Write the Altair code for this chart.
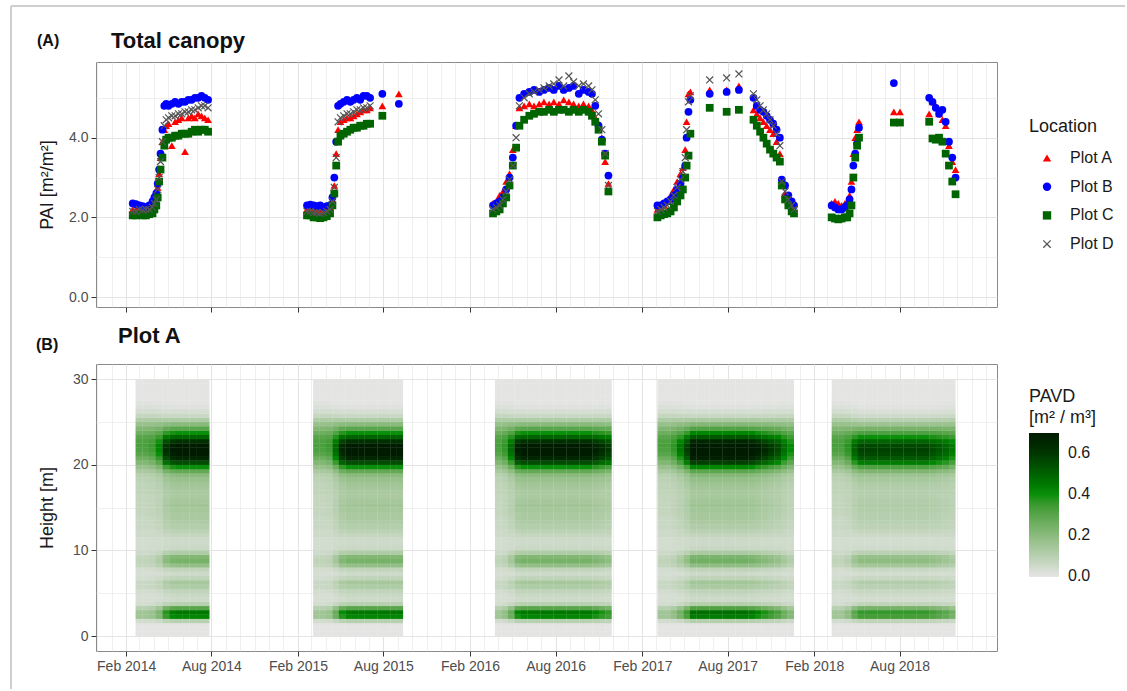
import altair as alt
import pandas as pd

# ---------------- Panel A: plant area index per plot ----------------
locations = ["Plot A", "Plot B", "Plot C", "Plot D"]
location_colors = ["#ff0000", "#0000ff", "#006400", "#555555"]
x_shape = "M0,-0.22L0.78,-1L1,-0.78L0.22,0L1,0.78L0.78,1L0,0.22L-0.78,1L-1,0.78L-0.22,0L-1,-0.78L-0.78,-1Z"
location_shapes = ["triangle-up", "circle", "square", x_shape]

dates_2014 = ["2014-02-15", "2014-02-22", "2014-03-01", "2014-03-08", "2014-03-15", "2014-03-22", "2014-03-29",
              "2014-04-02", "2014-04-06", "2014-04-09", "2014-04-12", "2014-04-15", "2014-04-19", "2014-04-23",
              "2014-04-27", "2014-05-02", "2014-05-09", "2014-05-16", "2014-05-23", "2014-05-30", "2014-06-06",
              "2014-06-13", "2014-06-20", "2014-06-27", "2014-07-04", "2014-07-11", "2014-07-18", "2014-07-25"]
plot_a_2014 = [2.2, 2.2, 2.18, 2.15, 2.2, 2.22, 2.3, 2.4, 2.5, 2.75, 3.1, 3.5, 3.9, 4.2, 4.3, 4.35, 3.8, 4.4,
               4.45, 4.5, 3.65, 4.5, 4.55, 4.5, 4.6, 4.55, 4.5, 4.45]
plot_b_2014 = [2.35, 2.33, 2.3, 2.28, 2.25, 2.3, 2.4, 2.5, 2.6, 2.85, 3.2, 3.6, 4.2, 4.8, 4.85, 4.8, 4.85, 4.9,
               4.85, 4.9, 4.9, 4.95, 4.95, 5.0, 5.0, 5.05, 5.0, 4.95]
plot_c_2014 = [2.05, 2.05, 2.08, 2.05, 2.05, 2.08, 2.1, 2.2, 2.3, 2.5, 2.9, 3.2, 3.5, 3.8, 3.95, 4.0, 4.0, 4.05,
               4.05, 4.1, 4.1, 4.1, 4.15, 4.2, 4.15, 4.2, 4.2, 4.15]
plot_d_2014 = [2.15, 2.15, 2.2, 2.18, 2.2, 2.2, 2.25, 2.35, 2.45, 2.7, 3.0, 3.4, 3.9, 4.3, 4.45, 4.5, 4.55, 4.55,
               4.6, 4.6, 4.65, 4.65, 4.7, 4.7, 4.75, 4.8, 4.8, 4.75]

dates_2015 = ["2015-02-20", "2015-02-27", "2015-03-06", "2015-03-13", "2015-03-20", "2015-03-27", "2015-04-03",
              "2015-04-10", "2015-04-15", "2015-04-19", "2015-04-23", "2015-04-27", "2015-05-02", "2015-05-09",
              "2015-05-16", "2015-05-23", "2015-05-30", "2015-06-06", "2015-06-13", "2015-06-20", "2015-06-27",
              "2015-07-04", "2015-07-30", "2015-09-03"]
plot_a_2015 = [2.2, 2.2, 2.15, 2.18, 2.15, 2.2, 2.2, 2.25, 2.45, 2.8, 3.6, 4.2, 4.4, 4.45, 4.5, 4.5, 4.55, 4.6,
               4.65, 4.7, 4.7, 4.75, 4.8, 5.1]
plot_b_2015 = [2.3, 2.32, 2.3, 2.28, 2.3, 2.25, 2.28, 2.3, 2.5, 3.0, 3.9, 4.8, 4.85, 4.9, 4.95, 4.9, 4.95, 5.0,
               4.95, 5.05, 5.05, 5.0, 5.1, 4.85]
plot_c_2015 = [2.05, 2.05, 2.0, 2.0, 1.98, 2.0, 2.03, 2.1, 2.3, 2.6, 3.3, 3.9, 4.05, 4.1, 4.15, 4.2, 4.25, 4.25,
               4.3, 4.3, 4.35, 4.35, 4.55, None]
plot_d_2015 = [2.15, 2.15, 2.12, 2.12, 2.1, 2.12, 2.15, 2.2, 2.4, 2.75, 3.5, 4.4, 4.5, 4.55, 4.6, 4.6, 4.65, 4.7,
               4.7, 4.75, 4.75, 4.8, None, None]

dates_2016 = ["2016-03-21", "2016-03-28", "2016-04-04", "2016-04-11", "2016-04-18", "2016-04-25", "2016-05-02",
              "2016-05-09", "2016-05-16", "2016-05-26", "2016-06-06", "2016-06-16", "2016-06-27", "2016-07-07",
              "2016-07-18", "2016-07-28", "2016-08-08", "2016-08-18", "2016-08-29", "2016-09-08", "2016-09-19",
              "2016-09-29", "2016-10-10", "2016-10-17", "2016-10-24", "2016-10-31", "2016-11-07", "2016-11-14",
              "2016-11-21"]
plot_a_2016 = [2.35, 2.4, 2.55, 2.65, 2.9, 3.1, 3.7, 4.3, 4.75, 4.8, 4.85, 4.8, 4.85, 4.9, 4.85, 4.9, 4.85, 4.95,
               4.9, 4.85, 4.8, 4.85, 4.8, 4.7, 4.5, 4.35, 4.0, 3.4, 2.85]
plot_b_2016 = [2.3, 2.35, 2.4, 2.5, 2.7, 3.0, 3.5, 4.3, 5.0, 5.1, 5.15, 5.2, 5.15, 5.2, 5.25, 5.2, 5.3, 5.2,
               5.25, 5.3, 5.1, 5.2, 5.15, 5.1, 4.8, 4.3, 3.95, 3.6, 3.05]
plot_c_2016 = [2.1, 2.15, 2.2, 2.35, 2.5, 2.8, 3.3, 3.75, 4.3, 4.45, 4.55, 4.6, 4.65, 4.65, 4.7, 4.65, 4.7, 4.7,
               4.65, 4.7, 4.65, 4.7, 4.65, 4.55, 4.4, 4.2, 3.9, 3.55, 2.65]
plot_d_2016 = [2.2, 2.25, 2.3, 2.45, 2.65, 2.95, 3.3, 4.0, 4.8, 5.0, 5.1, 5.15, 5.2, 5.25, 5.3, 5.35, 5.45, 5.3,
               5.55, 5.4, 5.3, 5.35, 5.3, 5.2, 4.95, 4.6, 4.2, 3.6, 2.8]

dates_2017 = ["2017-03-05", "2017-03-12", "2017-03-19", "2017-03-26", "2017-04-02", "2017-04-09", "2017-04-16",
              "2017-04-23", "2017-04-28", "2017-05-03", "2017-05-06", "2017-05-10", "2017-05-14", "2017-06-24",
              "2017-07-30", "2017-08-25", "2017-09-25", "2017-10-02", "2017-10-09", "2017-10-16", "2017-10-23",
              "2017-10-30", "2017-11-06", "2017-11-13", "2017-11-20", "2017-11-24", "2017-12-01", "2017-12-08",
              "2017-12-15", "2017-12-20"]
plot_a_2017 = [2.2, 2.25, 2.3, 2.4, 2.55, 2.7, 2.9, 3.1, 3.25, 3.7, 4.4, 5.1, 5.15, 5.2, 5.2, 5.3, 4.7, 4.6,
               4.5, 4.4, 4.3, 4.2, 4.1, 3.9, 3.6, 2.9, 2.6, 2.4, 2.25, 2.2]
plot_b_2017 = [2.3, 2.3, 2.35, 2.4, 2.45, 2.55, 2.7, 2.85, 3.0, 3.3, 4.0, 4.65, 4.95, 5.1, 5.15, 5.2, 5.0, 4.8,
               4.7, 4.65, 4.55, 4.45, 4.35, 4.2, 4.0, 2.95, 2.8, 2.55, 2.4, 2.3]
plot_c_2017 = [2.0, 2.05, 2.08, 2.1, 2.15, 2.25, 2.4, 2.55, 2.7, 3.0, 3.3, 3.55, 4.1, 4.75, 4.65, 4.7, 4.45, 4.3,
               4.15, 4.0, 3.85, 3.7, 3.6, 3.5, 3.4, 2.8, 2.45, 2.3, 2.15, 2.1]
plot_d_2017 = [2.15, 2.2, 2.25, 2.3, 2.4, 2.55, 2.75, 2.95, 3.15, 3.5, 4.2, 4.9, 5.05, 5.45, 5.5, 5.6, 5.1, 4.95,
               4.8, 4.7, 4.6, 4.45, 4.3, 4.1, 3.8, 2.9, 2.65, 2.45, 2.3, 2.2]

dates_2018 = ["2018-03-10", "2018-03-17", "2018-03-24", "2018-03-31", "2018-04-07", "2018-04-12", "2018-04-17",
              "2018-04-21", "2018-04-25", "2018-04-29", "2018-05-03", "2018-05-07", "2018-07-20", "2018-08-02",
              "2018-10-03", "2018-10-10", "2018-10-17", "2018-10-24", "2018-10-31", "2018-11-07", "2018-11-14",
              "2018-11-21", "2018-11-28"]
plot_a_2018 = [2.35, 2.4, 2.35, 2.3, 2.35, 2.4, 2.55, 2.9, 3.6, 4.0, 4.2, 4.4, 4.65, 4.65, 4.6, 4.9, 4.8, 4.6,
               4.45, 4.3, 3.8, 3.4, 3.2]
plot_b_2018 = [2.3, 2.25, 2.2, 2.2, 2.25, 2.3, 2.45, 2.7, 3.3, 3.6, 3.85, 4.25, 5.37, None, 5.0, 4.9, 4.75, 4.6,
               4.7, 4.4, 3.9, 3.5, 3.0]
plot_c_2018 = [2.0, 1.97, 1.95, 1.97, 2.0, 2.0, 2.1, 2.3, 3.0, 3.5, 3.8, 4.0, 4.38, 4.38, 4.4, 3.98, 3.95, 4.0,
               3.9, 3.6, 3.3, 2.9, 2.58]
plot_d_2018 = [None] * len(dates_2018)

seasons = [
    (dates_2014, plot_a_2014, plot_b_2014, plot_c_2014, plot_d_2014),
    (dates_2015, plot_a_2015, plot_b_2015, plot_c_2015, plot_d_2015),
    (dates_2016, plot_a_2016, plot_b_2016, plot_c_2016, plot_d_2016),
    (dates_2017, plot_a_2017, plot_b_2017, plot_c_2017, plot_d_2017),
    (dates_2018, plot_a_2018, plot_b_2018, plot_c_2018, plot_d_2018),
]
pai_rows = []
for k, loc in enumerate(locations):
    for season in seasons:
        dates, series = season[0], season[1 + k]
        for dt_str, val in zip(dates, series):
            if val is not None:
                pai_rows.append({"date": dt_str, "PAI": val, "Location": loc})
pai_df = pd.DataFrame(pai_rows)

# ---------------- Panel B: PAVD profiles for Plot A ----------------
pavd_layer_depth = 0.5
pavd_heights = [i * pavd_layer_depth for i in range(60)]  # lower edge of 0.5 m layers, 0 .. 29.5 m
pavd_leaf_off = [0.0, 0.0, 0.0, 0.04, 0.15, 0.15, 0.10, 0.04, 0.03, 0.03,
                 0.04, 0.06, 0.06, 0.04, 0.03, 0.04, 0.07, 0.08, 0.07, 0.05,
                 0.04, 0.04, 0.04, 0.05, 0.05, 0.06, 0.06, 0.06, 0.07, 0.07,
                 0.07, 0.07, 0.07, 0.08, 0.08, 0.08, 0.09, 0.10, 0.13, 0.17,
                 0.22, 0.26, 0.30, 0.32, 0.33, 0.32, 0.30, 0.26, 0.22, 0.17,
                 0.12, 0.07, 0.04, 0.02, 0.01, 0.0, 0.0, 0.0, 0.0, 0.0]
pavd_leaf_on = [0.0, 0.0, 0.0, 0.10, 0.42, 0.45, 0.30, 0.10, 0.05, 0.06,
                0.08, 0.12, 0.14, 0.08, 0.05, 0.08, 0.18, 0.24, 0.22, 0.12,
                0.06, 0.05, 0.05, 0.07, 0.09, 0.11, 0.12, 0.13, 0.13, 0.14,
                0.15, 0.14, 0.13, 0.13, 0.14, 0.15, 0.17, 0.20, 0.28, 0.40,
                0.55, 0.65, 0.70, 0.72, 0.70, 0.62, 0.50, 0.40, 0.30, 0.20,
                0.12, 0.06, 0.03, 0.01, 0.0, 0.0, 0.0, 0.0, 0.0, 0.0]
pavd_season_start = ["2014-02-21", "2015-03-05", "2016-03-25", "2017-03-05", "2018-03-10"]
pavd_season_end = ["2014-07-28", "2015-09-12", "2016-11-28", "2017-12-20", "2018-11-28"]
pavd_leaf_2014 = [0, 0, 0.05, 0.25, 0.75, 0.95, 1, 1, 1, 1, 1]
pavd_leaf_2015 = [0, 0, 0.05, 0.4, 0.85, 1, 1, 1, 1, 1, 1, 1, 1, 1]
pavd_leaf_2016 = [0, 0.1, 0.4, 0.9, 1, 1, 1, 1, 1, 1, 1, 1, 1, 1, 1, 0.9, 0.8, 0.7]
pavd_leaf_2017 = [0, 0, 0.1, 0.3, 0.6, 1, 1, 1, 1, 1, 1, 1, 1, 1, 0.95, 0.85, 0.75, 0.65, 0.55, 0.35, 0.2]
pavd_leaf_2018 = [0, 0, 0.2, 0.7, 1, 1, 1, 1, 1, 1, 1, 1, 1, 1, 1, 0.9, 0.8, 0.7, 0.5]
pavd_peak = [1.0, 1.0, 1.0, 1.05, 0.8]
pavd_leaf = [pavd_leaf_2014, pavd_leaf_2015, pavd_leaf_2016, pavd_leaf_2017, pavd_leaf_2018]

cells = []
for s, e, leaf, peak in zip(pavd_season_start, pavd_season_end, pavd_leaf, pavd_peak):
    edges = pd.date_range(s, e, periods=len(leaf) + 1)
    for i, f in enumerate(leaf):
        x0 = edges[i]
        x1 = edges[i + 1] + (pd.Timedelta(hours=14) if i < len(leaf) - 1 else pd.Timedelta(0))
        for j, (h, off, on) in enumerate(zip(pavd_heights, pavd_leaf_off, pavd_leaf_on)):
            v = off + f * (on * peak - off)
            cells.append({
                "start": x0.strftime("%Y-%m-%dT%H:%M:%S"),
                "end": x1.strftime("%Y-%m-%dT%H:%M:%S"),
                "h0": h,
                "h1": h + pavd_layer_depth + (0.04 if j < len(pavd_heights) - 1 else 0.0),
                "pavd": round(v, 3),
            })
pavd_df = pd.DataFrame(cells)

# ---------------- shared axis pieces ----------------
months = []
y, m = 2013, 12
while (y, m) <= (2019, 2):
    months.append(alt.DateTime(year=y, month=m, date=1))
    m += 1
    if m > 12:
        y, m = y + 1, 1

x_domain = [alt.DateTime(year=2013, month=11, date=29), alt.DateTime(year=2019, month=2, date=24)]
major_x = "(month(datum.value) == 1 || month(datum.value) == 7) && year(datum.value) < 2019"
GRID = "#e4e4e4"
TICK = "#333333"
LABEL = "#4d4d4d"


def cond(test, a, b):
    return {"condition": {"test": test, "value": a}, "value": b}


x_axis_top = alt.Axis(values=months, labels=False, title=None, domain=False, tickSize=5, tickColor=TICK,
                      tickOpacity=cond(major_x, 1, 0), grid=True, gridColor=GRID,
                      gridWidth=cond(major_x, 1.1, 0.6))
x_axis_bottom = alt.Axis(values=months, title=None, domain=False, tickSize=5, tickColor=TICK,
                         tickOpacity=cond(major_x, 1, 0), grid=True, gridColor=GRID,
                         gridWidth=cond(major_x, 1.1, 0.6),
                         labelExpr="(" + major_x + ") ? timeFormat(datum.value, '%b %Y') : ''",
                         labelOverlap=False, labelFlush=False, labelFontSize=14, labelColor=LABEL,
                         labelPadding=3)
y_axis_top = alt.Axis(values=[0, 1, 2, 3, 4, 5],
                      labelExpr="datum.value % 2 == 0 ? format(datum.value, '.1f') : ''",
                      tickOpacity=cond("datum.value % 2 == 0", 1, 0), tickSize=5, tickColor=TICK,
                      gridColor=GRID, gridWidth=cond("datum.value % 2 == 0", 1.1, 0.6), domain=False,
                      labelFontSize=14, labelColor=LABEL, labelPadding=3,
                      title="PAI [m²/m²]", titleFontSize=18, titleFontWeight="normal", titleColor="#1a1a1a",
                      titlePadding=12)
y_axis_bottom = alt.Axis(values=[0, 5, 10, 15, 20, 25, 30],
                         labelExpr="datum.value % 10 == 0 ? format(datum.value, 'd') : ''",
                         tickOpacity=cond("datum.value % 10 == 0", 1, 0), tickSize=5, tickColor=TICK,
                         gridColor=GRID, gridWidth=cond("datum.value % 10 == 0", 1.1, 0.6), domain=False,
                         labelFontSize=14, labelColor=LABEL, labelPadding=3,
                         title="Height [m]", titleFontSize=18, titleFontWeight="normal", titleColor="#1a1a1a",
                         titlePadding=16)

loc_legend = alt.Legend(title="Location", orient="none", legendX=933, legendY=56, direction="vertical",
                        titleFontSize=18, titleFontWeight="normal", titleColor="#1a1a1a", titlePadding=14,
                        labelFontSize=16, labelColor="#1a1a1a", symbolSize=70, symbolOffset=10,
                        labelOffset=15, rowPadding=12.7)

points = alt.Chart(pai_df).mark_point(filled=True, size=60, opacity=1).encode(
    x=alt.X("date:T", scale=alt.Scale(domain=x_domain), axis=x_axis_top),
    y=alt.Y("PAI:Q", scale=alt.Scale(domain=[-0.25, 5.9], nice=False, zero=False), axis=y_axis_top),
    color=alt.Color("Location:N", scale=alt.Scale(domain=locations, range=location_colors), legend=loc_legend),
    shape=alt.Shape("Location:N", scale=alt.Scale(domain=locations, range=location_shapes), legend=loc_legend),
)

panel_tag_a = pd.DataFrame({"label": ["(A)"]})
panel_title_a = pd.DataFrame({"label": ["Total canopy"]})
panel_tag_b = pd.DataFrame({"label": ["(B)"]})
panel_title_b = pd.DataFrame({"label": ["Plot A"]})

label_a = alt.Chart(panel_tag_a).mark_text(
    align="left", baseline="alphabetic", fontSize=16, fontWeight="bold", color="#111111"
).encode(x=alt.value(-59), y=alt.value(-16), text="label:N")
title_a = alt.Chart(panel_title_a).mark_text(
    align="left", baseline="alphabetic", fontSize=22, fontWeight="bold", color="#111111"
).encode(x=alt.value(15), y=alt.value(-14), text="label:N")

frame_top = alt.Chart(pd.DataFrame({"k": [0]})).mark_rule(color="#cfcfcf", strokeWidth=2).encode(
    x=alt.value(-85), x2=alt.value(1029), y=alt.value(-56))
frame_left = alt.Chart(pd.DataFrame({"k": [0]})).mark_rule(color="#cfcfcf", strokeWidth=2).encode(
    x=alt.value(-85), y=alt.value(-56), y2=alt.value(627))

top = alt.layer(points, label_a, title_a, frame_top, frame_left).properties(width=901, height=245)

pavd_legend = alt.Legend(title=["PAVD", "[m² / m³]"], orient="none", legendX=933, legendY=24,
                         direction="vertical", gradientLength=144, gradientThickness=30,
                         titleFontSize=18, titleFontWeight="normal", titleColor="#1a1a1a", titleLineHeight=21,
                         titlePadding=6, labelFontSize=16, labelColor="#1a1a1a", labelOffset=9,
                         values=[0, 0.2, 0.4, 0.6], format=".1f")

heat = alt.Chart(pavd_df).mark_rect(strokeWidth=0).encode(
    x=alt.X("start:T", scale=alt.Scale(domain=x_domain), axis=x_axis_bottom),
    x2="end:T",
    y=alt.Y("h0:Q", scale=alt.Scale(domain=[-1.75, 31.8], nice=False, zero=False), axis=y_axis_bottom),
    y2="h1:Q",
    color=alt.Color("pavd:Q", scale=alt.Scale(domain=[-0.003, 0.4, 0.7],
                                              range=["#e5e5e5", "#0a8f0a", "#000000"],
                                              clamp=True), legend=pavd_legend),
)

label_b = alt.Chart(panel_tag_b).mark_text(
    align="left", baseline="alphabetic", fontSize=16, fontWeight="bold", color="#111111"
).encode(x=alt.value(-60), y=alt.value(-14), text="label:N")
title_b = alt.Chart(panel_title_b).mark_text(
    align="left", baseline="alphabetic", fontSize=22, fontWeight="bold", color="#111111"
).encode(x=alt.value(22), y=alt.value(-21), text="label:N")

bottom = alt.layer(heat, label_b, title_b).properties(width=901, height=287)

chart = alt.vconcat(top, bottom, spacing=57, bounds="flush").resolve_scale(
    color="independent", shape="independent", x="independent", y="independent"
).properties(
    padding={"left": 9, "top": 4, "right": 0, "bottom": 0}
).configure(
    font="Liberation Sans"
).configure_view(
    stroke="#8a8a8a", strokeWidth=1
)

chart.save("out.html", embed_options={"renderer": "svg", "actions": False})
